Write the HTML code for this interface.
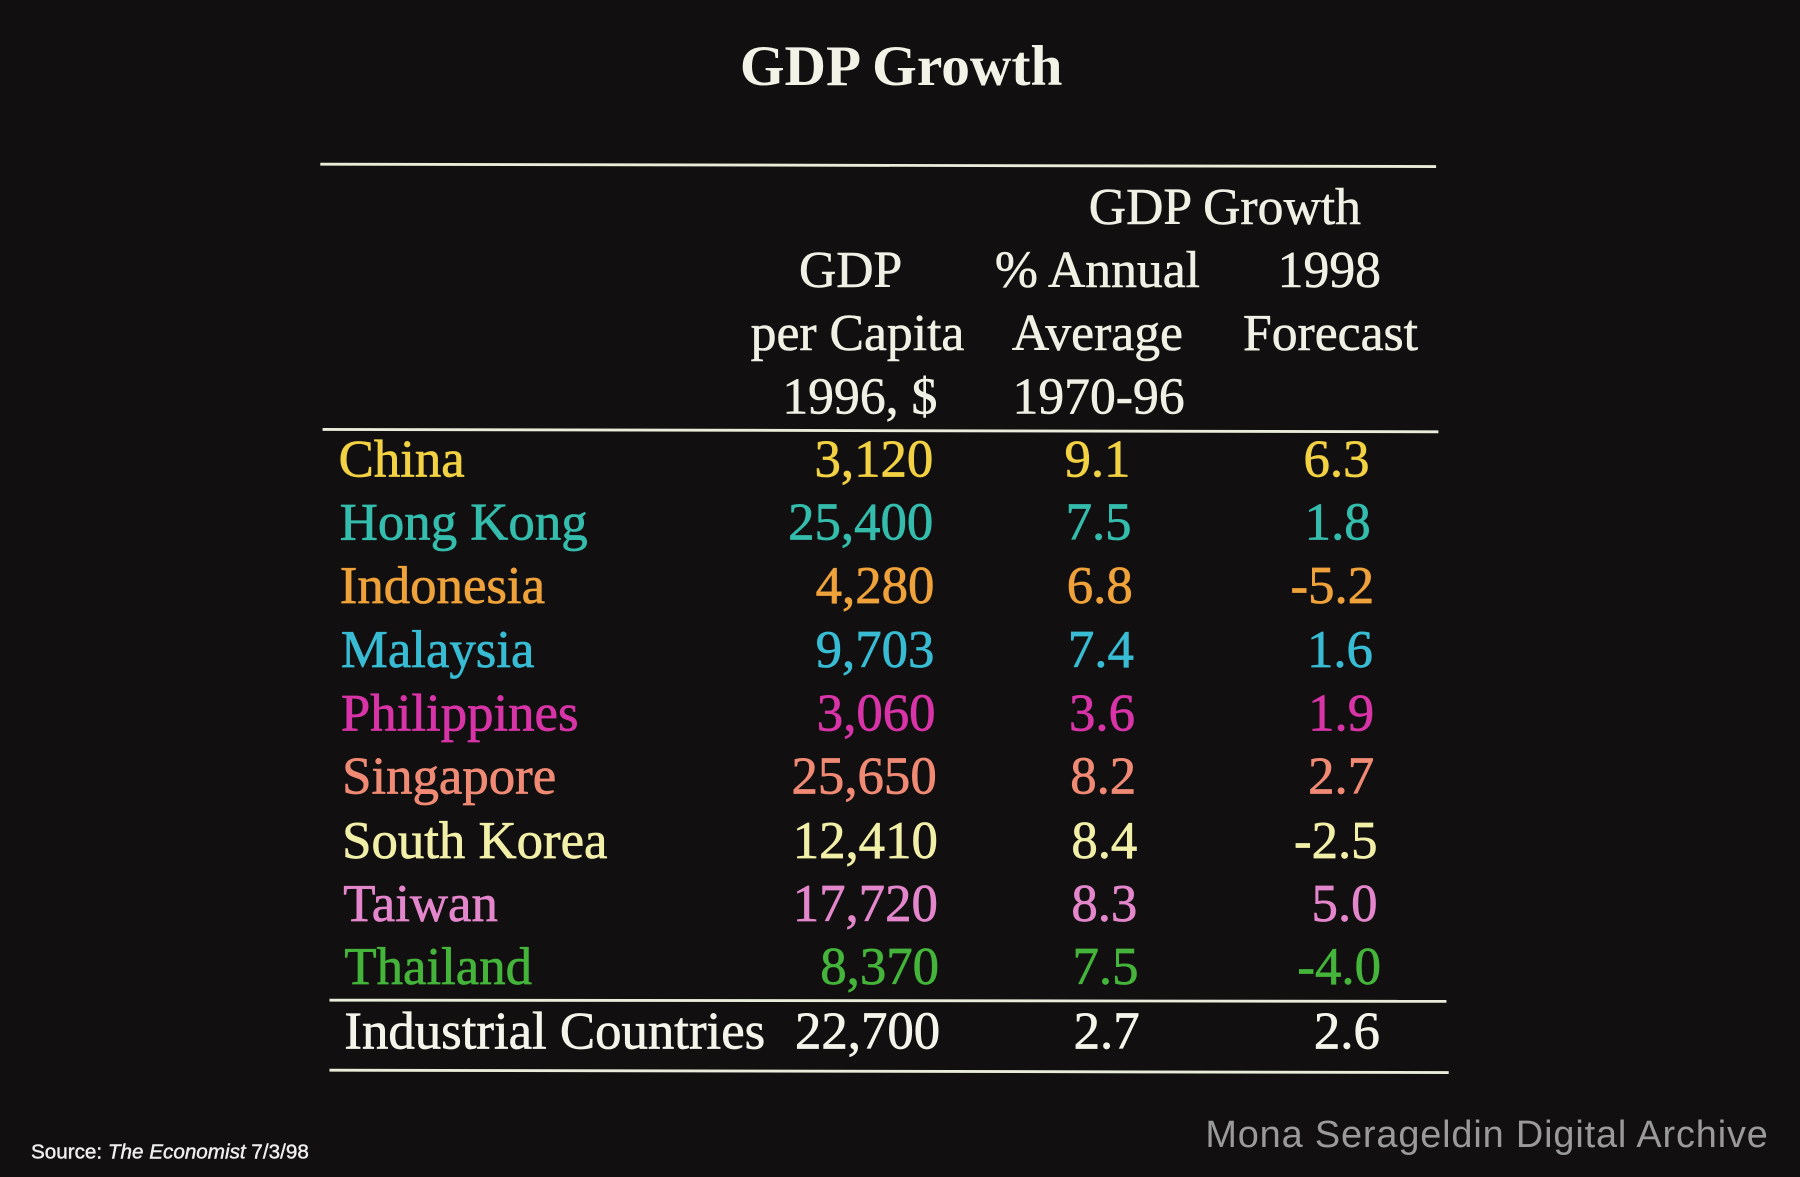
<!DOCTYPE html>
<html><head><meta charset="utf-8"><style>
html,body{margin:0;padding:0;background:#0f0d0d;}
svg{display:block}
text{font-family:"Liberation Serif",serif;}
</style></head><body>
<svg width="1800" height="1177" viewBox="0 0 1568 1025" preserveAspectRatio="none">
<rect x="0" y="0" width="1568" height="1025" fill="#110f0f"/>
<text x="785" y="74" text-anchor="middle" font-size="50" font-weight="bold" fill="#f2f2e6">GDP Growth</text>
<line x1="279" y1="143" x2="1251" y2="145" stroke="#e8ecd8" stroke-width="2.5"/>
<line x1="281" y1="374" x2="1253" y2="376" stroke="#e8ecd8" stroke-width="2.5"/>
<line x1="287" y1="871" x2="1260" y2="872" stroke="#e8ecd8" stroke-width="2.5"/>
<line x1="287" y1="932" x2="1262" y2="934" stroke="#e8ecd8" stroke-width="2.5"/>
<g fill="#f0f0e4" stroke="#f0f0e4" stroke-width="0.5" font-size="45" text-anchor="middle">
<text x="1067" y="195">GDP Growth</text>
<text x="741" y="250">GDP</text>
<text x="747" y="305">per Capita</text>
<text x="749" y="360">1996, $</text>
<text x="956" y="250">% Annual</text>
<text x="956" y="305">Average</text>
<text x="957" y="360">1970-96</text>
<text x="1158" y="250">1998</text>
<text x="1159" y="305">Forecast</text>
</g>
<g font-size="46" stroke-width="0.6">
<g fill="#f2d243" stroke="#f2d243"><text x="295" y="415">China</text><text x="813" y="415" text-anchor="end">3,120</text><text x="956" y="415" text-anchor="middle">9.1</text><text x="1193" y="415" text-anchor="end">6.3</text></g>
<g fill="#34bcac" stroke="#34bcac"><text x="296" y="470">Hong Kong</text><text x="813" y="470" text-anchor="end">25,400</text><text x="957" y="470" text-anchor="middle">7.5</text><text x="1194" y="470" text-anchor="end">1.8</text></g>
<g fill="#f0a23a" stroke="#f0a23a"><text x="296" y="525">Indonesia</text><text x="814" y="525" text-anchor="end">4,280</text><text x="958" y="525" text-anchor="middle">6.8</text><text x="1197" y="525" text-anchor="end">-5.2</text></g>
<g fill="#38bcd4" stroke="#38bcd4"><text x="297" y="581">Malaysia</text><text x="814" y="581" text-anchor="end">9,703</text><text x="959" y="581" text-anchor="middle">7.4</text><text x="1196" y="581" text-anchor="end">1.6</text></g>
<g fill="#d834a8" stroke="#d834a8"><text x="297" y="636">Philippines</text><text x="815" y="636" text-anchor="end">3,060</text><text x="960" y="636" text-anchor="middle">3.6</text><text x="1197" y="636" text-anchor="end">1.9</text></g>
<g fill="#f08a74" stroke="#f08a74"><text x="298" y="691">Singapore</text><text x="816" y="691" text-anchor="end">25,650</text><text x="961" y="691" text-anchor="middle">8.2</text><text x="1197" y="691" text-anchor="end">2.7</text></g>
<g fill="#f2f0a8" stroke="#f2f0a8"><text x="298" y="747">South Korea</text><text x="817" y="747" text-anchor="end">12,410</text><text x="962" y="747" text-anchor="middle">8.4</text><text x="1200" y="747" text-anchor="end">-2.5</text></g>
<g fill="#e486cc" stroke="#e486cc"><text x="299" y="802">Taiwan</text><text x="817" y="802" text-anchor="end">17,720</text><text x="962" y="802" text-anchor="middle">8.3</text><text x="1200" y="802" text-anchor="end">5.0</text></g>
<g fill="#44b43a" stroke="#44b43a"><text x="300" y="857">Thailand</text><text x="818" y="857" text-anchor="end">8,370</text><text x="963" y="857" text-anchor="middle">7.5</text><text x="1203" y="857" text-anchor="end">-4.0</text></g>
<g fill="#f4f4ea" stroke="#f4f4ea"><text x="300" y="913">Industrial Countries</text><text x="819" y="913" text-anchor="end">22,700</text><text x="964" y="913" text-anchor="middle">2.7</text><text x="1202" y="913" text-anchor="end">2.6</text></g>
</g>
<text x="27" y="1009" font-size="18" fill="#eeeeee" stroke="#eeeeee" stroke-width="0.4" style="font-family:'Liberation Sans',sans-serif">Source:  <tspan font-style="italic">The Economist</tspan> 7/3/98</text>
<text x="1050" y="999" font-size="33" fill="#9a9a9a" textLength="490" style="font-family:'Liberation Sans',sans-serif">Mona Serageldin Digital Archive</text>
</svg>
</body></html>
